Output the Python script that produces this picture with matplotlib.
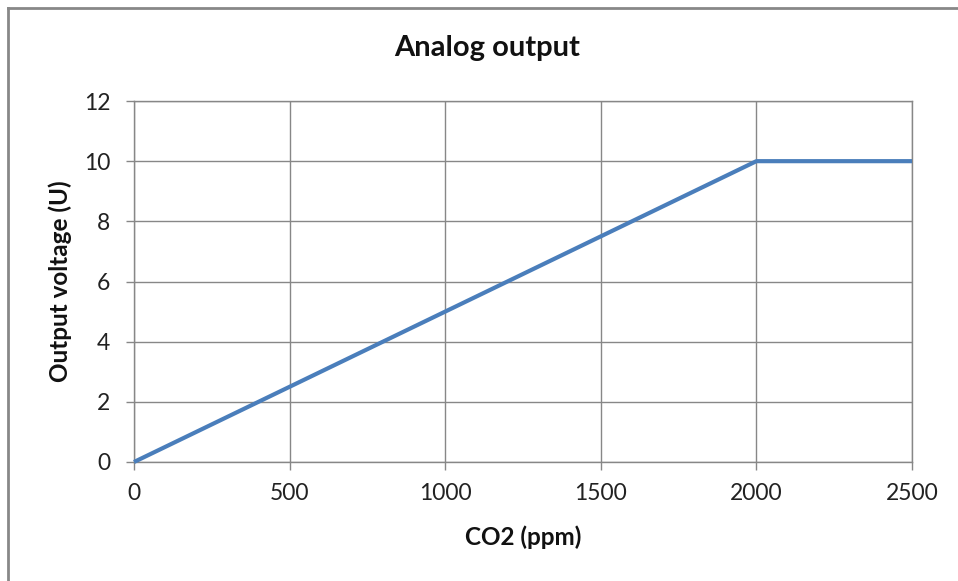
import matplotlib
matplotlib.use("Agg")
import matplotlib.pyplot as plt
from matplotlib.lines import Line2D

co2_ppm = [0, 2000, 2500]
voltage = [0, 10, 10]
x_ticks = [0, 500, 1000, 1500, 2000, 2500]
y_ticks = [0, 2, 4, 6, 8, 10, 12]

plt.rcParams['font.family'] = ['Lato', 'DejaVu Sans']

W, H = 958, 581
fig = plt.figure(figsize=(W/100, H/100), dpi=100)
ax = fig.add_axes([134/W, 1-462/H, 778/W, 361/H])

ax.plot(co2_ppm, voltage, color='#4A7EBB', lw=3, solid_capstyle='butt', zorder=3, clip_on=False)
ax.set_xlim(0, 2500)
ax.set_ylim(0, 12)
ax.set_xticks(x_ticks)
ax.set_yticks(y_ticks)
ax.grid(True, color='#878787', lw=1)
ax.set_axisbelow(True)
for s in ax.spines.values():
    s.set_color('#878787')
    s.set_linewidth(1)
ax.tick_params(axis='both', direction='out', length=6, width=1, color='#878787',
               labelsize=16.5, labelcolor='#222222')
ax.tick_params(axis='y', pad=11)
ax.tick_params(axis='x', pad=9)

fig.text(487/W, 1-48/H, 'Analog output', ha='center', va='center', fontsize=21, fontweight='bold', color='#111111')
fig.text(523/W, 1-537/H, 'CO2 (ppm)', ha='center', va='center', fontsize=17.5, fontweight='bold', color='#111111')
fig.text(60/W, 1-281/H, 'Output voltage (U)', ha='center', va='center', rotation=90,
         rotation_mode='anchor', fontsize=17.5, fontweight='bold', color='#111111')

# outer chart border (top and left visible)
fig.add_artist(Line2D([8/W, 8/W], [0, 1-8/H], transform=fig.transFigure, color='#888888', lw=2))
fig.add_artist(Line2D([8/W, 1], [1-8/H, 1-8/H], transform=fig.transFigure, color='#888888', lw=2))

fig.savefig('out.png', dpi=100)
